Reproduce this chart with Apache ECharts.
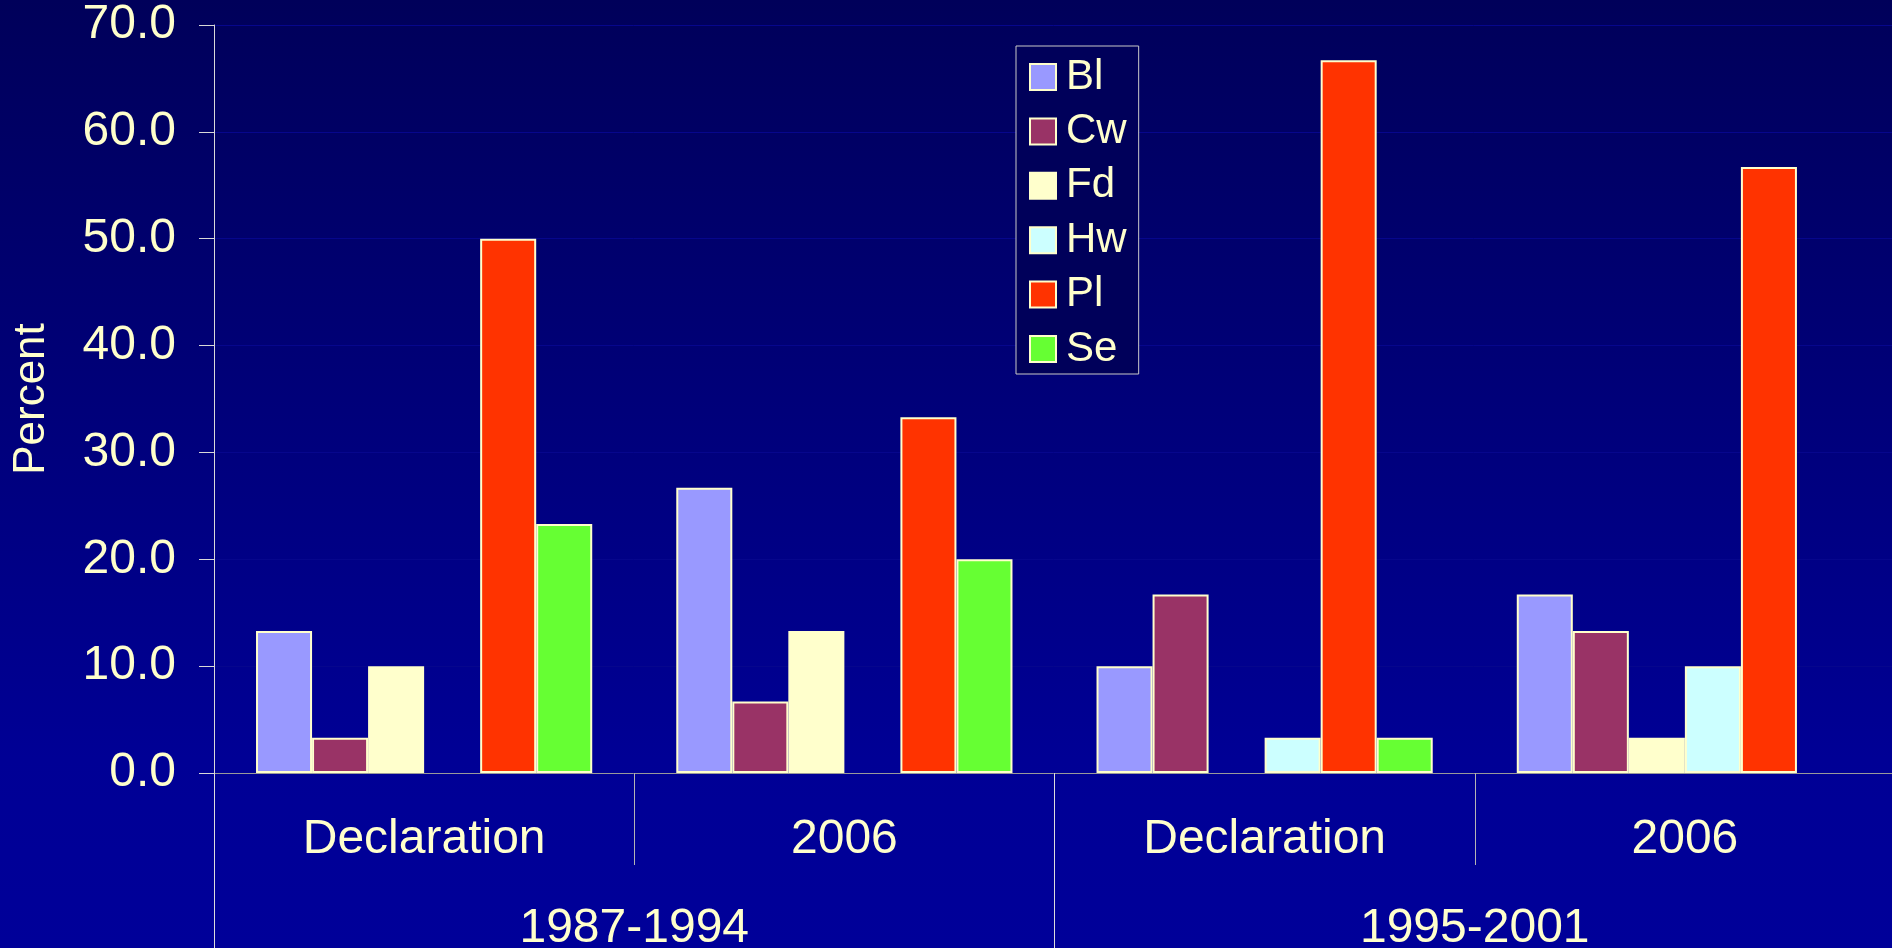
<!DOCTYPE html>
<html style="height: 100%">
<head>
    <meta charset="utf-8">
    <style>
        body{margin: 0; height: 100%; background: #000080;}
        #container{width: 1892px; height: 948px;}
    </style>
</head>
<body>
<div id="container"></div>
<script src="https://cdn.jsdelivr.net/npm/echarts@6/dist/echarts.min.js"></script>
<script type="text/javascript">
    var periods = ['Declaration', '2006', 'Declaration', '2006'];
    var groups = ['1987-1994', '1995-2001'];
    var species = ['Bl', 'Cw', 'Fd', 'Hw', 'Pl', 'Se'];
    var colors = ['#9999FF', '#993366', '#FFFFCC', '#CCFFFF', '#FF3300', '#66FF33'];

    // percent by species, one value per period column
    var bl = [13.3, 26.7, 10.0, 16.7];
    var cw = [3.3, 6.7, 16.7, 13.3];
    var fd = [10.0, 13.3, 0, 3.3];
    var hw = [0, 0, 3.3, 10.0];
    var pl = [50.0, 33.3, 66.7, 56.7];
    var se = [23.3, 20.0, 3.3, 0];
    var values = [bl, cw, fd, hw, pl, se];

    var yTicks = {min: 0, max: 70, interval: 10};

    var cream = '#FFFFCC';
    var font = 'Liberation Sans, Arial, sans-serif';

    var myChart = echarts.init(document.getElementById('container'));

    var series = species.map(function (name, i) {
        return {
            name: name,
            type: 'bar',
            xAxisIndex: 0,
            yAxisIndex: 0,
            barGap: 0,
            barCategoryGap: '20%',
            // zero values are not drawn in the original
            data: values[i].map(function (v) { return v === 0 ? '-' : v; }),
            itemStyle: {
                color: colors[i],
                borderColor: cream,
                borderWidth: 2
            }
        };
    });

    var option = {
        backgroundColor: {
            type: 'linear', x: 0, y: 0, x2: 0, y2: 1,
            colorStops: [
                {offset: 0, color: '#00005a'},
                {offset: 0.8, color: '#000095'},
                {offset: 1, color: '#000099'}
            ]
        },
        animation: false,
        legend: {
            orient: 'vertical',
            left: 1016,
            top: 46,
            padding: [10, 12, 4, 13],
            itemWidth: 26,
            itemHeight: 26,
            itemGap: 12.4,
            icon: 'rect',
            backgroundColor: '#00005a',
            borderColor: '#c8c8c8',
            borderWidth: 1,
            data: species,
            textStyle: {
                color: cream,
                fontFamily: font,
                fontSize: 42,
                lineHeight: 42,
                padding: [0, 0, 0, 5]
            }
        },
        grid: [
            {left: 214, right: -3, top: 25, bottom: 175, outerBoundsMode: 'none'},
            {left: 214, right: -3, top: 25, bottom: 175, outerBoundsMode: 'none'}
        ],
        xAxis: [
            {
                type: 'category',
                gridIndex: 0,
                data: periods,
                axisLine: {lineStyle: {color: '#9a9a9a', width: 1}},
                axisTick: {show: true, interval: 0, length: 92, lineStyle: {color: '#b4b4b4'}},
                axisLabel: {
                    interval: 0,
                    margin: 43,
                    color: cream,
                    fontFamily: font,
                    fontSize: 48
                },
                splitLine: {show: false}
            },
            {
                type: 'category',
                gridIndex: 1,
                position: 'bottom',
                data: groups,
                axisLine: {show: false},
                axisTick: {show: true, interval: 0, length: 175, lineStyle: {color: '#dcdcdc'}},
                axisLabel: {
                    interval: 0,
                    margin: 132,
                    color: cream,
                    fontFamily: font,
                    fontSize: 48
                },
                splitLine: {show: false}
            }
        ],
        yAxis: [
            {
                type: 'value',
                gridIndex: 0,
                min: yTicks.min,
                max: yTicks.max,
                interval: yTicks.interval,
                name: 'Percent',
                nameLocation: 'middle',
                nameGap: 160,
                nameTextStyle: {color: cream, fontFamily: font, fontSize: 44},
                axisLine: {show: true, lineStyle: {color: '#d8d8d8'}},
                axisTick: {show: true, length: 15, lineStyle: {color: '#d8d8d8'}},
                axisLabel: {
                    margin: 38,
                    color: cream,
                    fontFamily: font,
                    fontSize: 48,
                    formatter: function (v) { return v.toFixed(1); }
                },
                splitLine: {show: true, lineStyle: {color: '#06068c', width: 1}}
            },
            {
                type: 'value',
                gridIndex: 1,
                min: 0,
                max: 1,
                show: false
            }
        ],
        series: series
    };

    myChart.setOption(option);
</script>
</body>
</html>
